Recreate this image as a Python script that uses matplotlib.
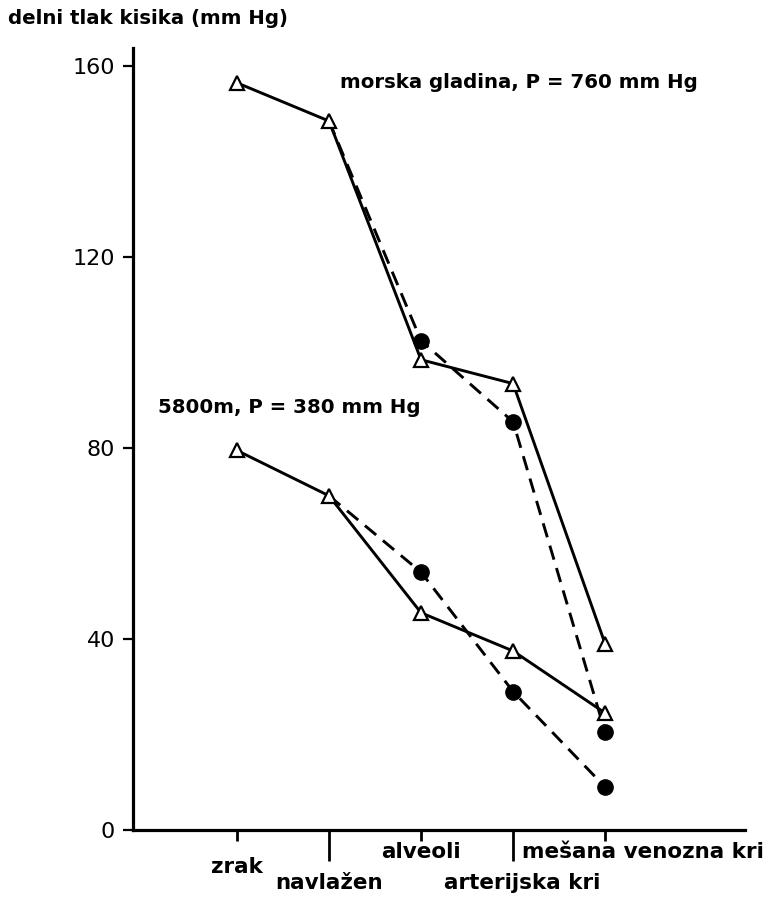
import matplotlib
matplotlib.use('Agg')
import matplotlib.pyplot as plt

# ---- data ----
categories = ['zrak', 'navlažen', 'alveoli', 'arterijska kri', 'mešana venozna kri']
sea_solid = [156.5, 148.5, 98.5, 93.5, 39]  # morska gladina, triangles
sea_dashed = [148.5, 102.5, 85.5, 20.5]     # from navlažen onwards, circles
alt_solid = [79.5, 70, 45.5, 37.5, 24.5]    # 5800 m, triangles
alt_dashed = [70, 54, 29, 9]                # from navlažen onwards, circles
yticks = [0, 40, 80, 120, 160]
ylabel = 'delni tlak kisika (mm Hg)'
sea_label = 'morska gladina, P = 760 mm Hg'
alt_label = '5800m, P = 380 mm Hg'

W, H = 775, 899
fig = plt.figure(figsize=(W / 100, H / 100), dpi=100)
ax = fig.add_axes([133 / W, 1 - 830 / H, (745 - 133) / W, (830 - 48) / H])

xs = list(range(len(categories)))
xd = xs[1:]

lw = 2.1
ax.plot(xd, sea_dashed, color='black', lw=lw, dashes=(5, 3), marker='o',
        markersize=11, markerfacecolor='black', markeredgecolor='black',
        markevery=[1, 2, 3], zorder=3)
ax.plot(xd, alt_dashed, color='black', lw=lw, dashes=(5, 3), marker='o',
        markersize=11, markerfacecolor='black', markeredgecolor='black',
        markevery=[1, 2, 3], zorder=3)
ax.plot(xs, sea_solid, color='black', lw=lw, marker='^', markersize=10,
        markerfacecolor='white', markeredgecolor='black', markeredgewidth=1.6,
        zorder=4)
ax.plot(xs, alt_solid, color='black', lw=lw, marker='^', markersize=10,
        markerfacecolor='white', markeredgecolor='black', markeredgewidth=1.6,
        zorder=4)

ax.set_xlim(-1.13, 5.52)
ax.set_ylim(0, 163.8)

for s in ['top', 'right']:
    ax.spines[s].set_visible(False)
for s in ['left', 'bottom']:
    ax.spines[s].set_linewidth(2.3)

ax.set_yticks(yticks)
ax.set_yticklabels([str(v) for v in yticks], fontsize=16, family='DejaVu Sans')
ax.tick_params(axis='y', direction='out', length=7, width=1.6, pad=6)

ax.set_xticks([0, 2, 4])
ax.set_xticks([1, 3], minor=True)
ax.set_xticklabels([])
ax.tick_params(axis='x', which='major', direction='out', length=8, width=2)
ax.tick_params(axis='x', which='minor', direction='out', length=22, width=2)

ann = dict(fontsize=14.2, fontweight='bold', family='DejaVu Sans', color='black')
lab = dict(fontsize=15.5, fontweight='bold', family='DejaVu Sans', color='black')

# title / y-label at top-left
fig.text(8 / W, 1 - 18 / H, ylabel, ha='left', va='center', **ann)

# annotations
ax.text(1.12, 156.5, sea_label, ha='left', va='center', **ann)
ax.text(-0.86, 88.5, alt_label, ha='left', va='center', **ann)

# category labels below the axis (staggered rows)
ypx = {'upper': 852, 'mid': 867, 'lower': 883}
def ydata(py):
    return -(py - 830) / 4.775

ax.text(xs[0], ydata(ypx['mid']), categories[0], ha='center', va='center', clip_on=False, **lab)
ax.text(xs[1], ydata(ypx['lower']), categories[1], ha='center', va='center', clip_on=False, **lab)
ax.text(xs[2], ydata(ypx['upper']), categories[2], ha='center', va='center', clip_on=False, **lab)
ax.text(xs[3] + 0.1, ydata(ypx['lower']), categories[3], ha='center', va='center', clip_on=False, **lab)
ax.text(xs[3] + 0.1, ydata(ypx['upper']), categories[4], ha='left', va='center', clip_on=False, **lab)

fig.savefig('out.png', dpi=100)
